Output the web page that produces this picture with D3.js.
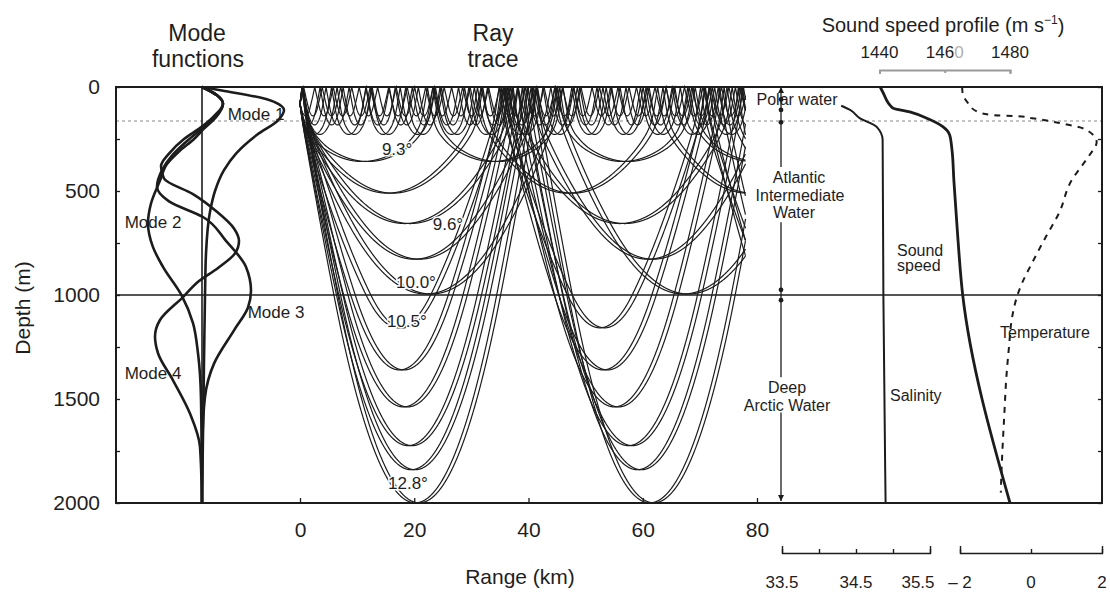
<!DOCTYPE html>
<html>
<head>
<meta charset="utf-8">
<title>Arctic acoustics</title>
<script src="https://cdn.jsdelivr.net/npm/d3@7/dist/d3.min.js"></script>
<style>
    body { margin: 0; background: #fff; }
    svg { display: block; font-family: 'Liberation Sans', Arial, sans-serif; }
    text { fill: #1e1e1e; }
</style>
</head>
<body>
<svg id="chart" width="1110" height="592"></svg>
<script>
// axis ticks
const DEPTH_TICKS = [0, 500, 1000, 1500, 2000]
const DEPTH_MINOR = [0, 250, 500, 750, 1000, 1250, 1500, 1750, 2000]
const RANGE_TICKS = [0, 20, 40, 60, 80]
const SPEED_TICKS = [1440, 1460, 1480]
const SALINITY_TICKS = [33.5, 34.5, 35.5]
const SALINITY_MINOR = [33.5, 34, 34.5, 35, 35.5]
const TEMP_TICKS = [-2, 0, 2]

// profiles: [depth m, value]
const soundSpeed = [[0, 1440.2], [24, 1441], [100, 1444], [120, 1449.3], [150, 1454.5], [190, 1459.4],
    [230, 1461.5], [300, 1462.2], [450, 1462.8], [700, 1463.9], [1000, 1465.5], [2000, 1480]]
const salinity = [[90, 34.3], [110, 34.42], [150, 34.55], [192, 34.78], [255, 34.86], [1000, 34.87], [2000, 34.9]]
const temperature = [[0, -1.94], [25, -1.93], [72, -1.8], [120, -1.5], [135, -1.07], [140, -0.4], [150, 0.03],
    [173, 0.8], [205, 1.55], [265, 1.85], [327, 1.65], [375, 1.45], [447, 1.15], [606, 0.79], [720, 0.42],
    [846, 0.03], [942, -0.25], [1005, -0.39], [1105, -0.53], [1250, -0.62], [1410, -0.7], [1570, -0.75],
    [1730, -0.8], [1890, -0.84], [1950, -0.85]]

// mode functions: [depth m, amplitude (arbitrary units)]
const mode1 = [[0, 0], [20, 2.4], [58, 6.4], [112, 8.2], [160, 7.6], [230, 5.5], [320, 3.4], [400, 2.2],
    [500, 1.3], [600, 0.8], [800, 0.4], [1000, 0.3], [1500, 0.15], [2000, 0]]
const mode2 = [[0, 0], [40, 1.5], [80, 2.1], [145, 1.4], [200, 0.2], [250, -0.8], [310, -2.3], [370, -3.5],
    [450, -4.2], [560, -5.1], [655, -5.4], [770, -4.9], [865, -3.9], [1005, -2.0], [1135, -0.9],
    [1280, -0.4], [1500, -0.1], [2000, 0]]
const mode3 = [[0, 0], [40, 1.5], [80, 2.1], [145, 1.3], [200, 0], [260, -1.5], [330, -3.0], [400, -4.0],
    [480, -4.5], [550, -3.3], [625, 0.1], [740, 2.4], [865, 4.4], [980, 4.9], [1060, 4.6], [1170, 3.2],
    [1330, 1.2], [1490, 0.3], [1700, 0.05], [2000, 0]]
const mode4 = [[0, 0], [40, 1.5], [80, 2.1], [140, 1.2], [190, 0], [250, -1.8], [320, -3.3], [380, -4.1],
    [440, -3.8], [515, -0.9], [596, 1.4], [680, 3.2], [740, 3.7], [800, 3.3], [870, 1.6], [933, -0.3],
    [1010, -1.9], [1120, -4.2], [1200, -4.7], [1280, -4.4], [1410, -2.9], [1570, -1.2], [1730, -0.2], [2000, 0]]

// ray trace: source depth (m), launch angles (deg), max range (km)
const SOURCE_DEPTH = 80
const MAX_RANGE = 78
const ductAngles = [6.5, 8.3, 9.05]
const deepAngles = [9.3, 9.45, 9.6, 9.8, 10.0, 10.5, 11.1, 11.6, 12.1, 12.4, 12.8]
const angleLabels = [['9.3°', 17.0, 298], ['9.6°', 25.9, 659], ['10.0°', 20.3, 938], ['10.5°', 18.7, 1125], ['12.8°', 18.9, 1904]]

// water masses column
const waterMassSegments = [[0, 385], [650, 1395], [1565, 1990]]
const waterMassDots = [60, 110, 170, 975, 1025]

const svg = d3.select('#chart')
const ink = '#1c1c1c'

const y = d3.scaleLinear().domain([0, 2000]).range([87, 503])
const xRange = d3.scaleLinear().domain([0, 80]).range([300, 757])
const xMode = d3.scaleLinear().domain([-6, 9]).range([142, 292])
const xSpeed = d3.scaleLinear().domain([1440, 1480]).range([879.5, 1010])
const xSal = d3.scaleLinear().domain([33.5, 35.5]).range([782, 930])
const xTemp = d3.scaleLinear().domain([-2, 2]).range([960, 1102])
const COLUMN_X = 781
const LEFT = 116, RIGHT = 1102

// faint dotted scan line and 1000 m line
svg.append('line')
    .attr('x1', LEFT).attr('x2', RIGHT).attr('y1', y(163)).attr('y2', y(163))
    .attr('stroke', '#c4c4c4').attr('stroke-width', 2).attr('stroke-dasharray', '3,3')
svg.append('line')
    .attr('x1', LEFT).attr('x2', RIGHT).attr('y1', y(1000)).attr('y2', y(1000))
    .attr('stroke', ink).attr('stroke-width', 1.3)

// --- ray tracing through the sound speed profile
const zs = soundSpeed.map(d => d[0])
const speedAt = d3.scaleLinear().domain(zs).range(soundSpeed.map(d => d[1])).clamp(true)
const slopeAt = z => {
    const i = Math.max(1, Math.min(soundSpeed.length - 1, d3.bisectRight(zs, z)))
    return (soundSpeed[i][1] - soundSpeed[i - 1][1]) / (soundSpeed[i][0] - soundSpeed[i - 1][0])
}

function traceRay(angle, dir) {
    const a = Math.cos(angle * Math.PI / 180) / speedAt(SOURCE_DEPTH)
    let r = 0, z = SOURCE_DEPTH, th = dir * angle * Math.PI / 180
    const ds = 10
    const pts = [[0, z]]
    for (let n = 1; r < MAX_RANGE * 1000; n++) {
        const k1 = -slopeAt(z) / speedAt(z) * Math.cos(th)
        const thm = th + 0.5 * ds * k1
        const zm = z + 0.5 * ds * Math.sin(th)
        const k2 = -slopeAt(zm) / speedAt(zm) * Math.cos(thm)
        r += ds * Math.cos(thm)
        z += ds * Math.sin(thm)
        th += ds * k2
        if (z < 0) {
            pts.push([r / 1000, 0])
            z = -z
            th = -th
        }
        // keep Snell's invariant
        const cosT = a * speedAt(z)
        if (cosT < 1) th = (th >= 0 ? 1 : -1) * Math.acos(cosT)
        if (n % 5 === 0) pts.push([r / 1000, z])
    }
    return pts
}

const rays = []
ductAngles.concat(deepAngles).forEach(ang => {
    rays.push(traceRay(ang, 1))
    rays.push(traceRay(ang, -1))
})

const rayLine = d3.line().x(d => xRange(d[0])).y(d => y(d[1]))
svg.append('g').attr('id', 'rays')
    .selectAll('path')
    .data(rays)
    .join('path')
    .attr('d', rayLine)
    .attr('fill', 'none')
    .attr('stroke', ink)
    .attr('stroke-width', 1.2)

svg.append('g').selectAll('text')
    .data(angleLabels)
    .join('text')
    .attr('x', d => xRange(d[1]))
    .attr('y', d => y(d[2]))
    .attr('dy', '0.35em')
    .attr('text-anchor', 'middle')
    .attr('font-size', 17)
    .attr('paint-order', 'stroke')
    .attr('stroke', '#fff').attr('stroke-width', 3)
    .text(d => d[0])

// --- mode functions
svg.append('line')
    .attr('x1', xMode(0)).attr('x2', xMode(0)).attr('y1', y(0)).attr('y2', y(2000))
    .attr('stroke', ink).attr('stroke-width', 1.6)

const modeLine = d3.line().x(d => xMode(d[1])).y(d => y(d[0])).curve(d3.curveMonotoneY)
svg.append('g').selectAll('path')
    .data([mode1, mode2, mode3, mode4])
    .join('path')
    .attr('d', modeLine)
    .attr('fill', 'none')
    .attr('stroke', ink)
    .attr('stroke-width', 2.6)

const modeLabels = [['Mode 1', 5.4, 128], ['Mode 2', -4.9, 649], ['Mode 3', 7.4, 1082], ['Mode 4', -4.9, 1375]]
svg.append('g').selectAll('text')
    .data(modeLabels)
    .join('text')
    .attr('x', d => xMode(d[1]))
    .attr('y', d => y(d[2]))
    .attr('dy', '0.35em')
    .attr('text-anchor', 'middle')
    .attr('font-size', 17)
    .text(d => d[0])

// --- water masses column
svg.append('g').selectAll('line')
    .data(waterMassSegments)
    .join('line')
    .attr('x1', COLUMN_X).attr('x2', COLUMN_X)
    .attr('y1', d => y(d[0])).attr('y2', d => y(d[1]))
    .attr('stroke', ink).attr('stroke-width', 1.3)
svg.append('g').selectAll('circle')
    .data(waterMassDots)
    .join('circle')
    .attr('cx', COLUMN_X).attr('cy', d => y(d)).attr('r', 2.4)
    .attr('fill', ink)
svg.append('path')
    .attr('d', `M${COLUMN_X - 3},${y(0) + 6}L${COLUMN_X},${y(0)}L${COLUMN_X + 3},${y(0) + 6}Z`
        + `M${COLUMN_X - 3},${y(1990) - 6}L${COLUMN_X},${y(1990)}L${COLUMN_X + 3},${y(1990) - 6}Z`)
    .attr('fill', ink)

const massLabels = [['Polar water', 797, 58], ['Atlantic', 799, 433], ['Intermediate', 800, 519], ['Water', 794, 601],
    ['Deep', 787, 1442], ['Arctic Water', 787, 1529]]
svg.append('g').selectAll('text')
    .data(massLabels)
    .join('text')
    .attr('x', d => d[1])
    .attr('y', d => y(d[2]))
    .attr('dy', '0.35em')
    .attr('text-anchor', 'middle')
    .attr('font-size', 16)
    .text(d => d[0])

// --- profiles
const profileLine = scale => d3.line().x(d => scale(d[1])).y(d => y(d[0])).curve(d3.curveMonotoneY)
svg.append('path').datum(salinity)
    .attr('d', profileLine(xSal))
    .attr('fill', 'none').attr('stroke', ink).attr('stroke-width', 2)
svg.append('path').datum(soundSpeed)
    .attr('d', profileLine(xSpeed))
    .attr('fill', 'none').attr('stroke', ink).attr('stroke-width', 2.8)
svg.append('path').datum(temperature)
    .attr('d', profileLine(xTemp))
    .attr('fill', 'none').attr('stroke', ink).attr('stroke-width', 2)
    .attr('stroke-dasharray', '6,6')

const profileLabels = [['Sound', 897, 784], ['speed', 897, 856], ['Salinity', 890, 1481], ['Temperature', 1000, 1178]]
svg.append('g').selectAll('text')
    .data(profileLabels)
    .join('text')
    .attr('x', d => d[1])
    .attr('y', d => y(d[2]))
    .attr('dy', '0.35em')
    .attr('font-size', 16)
    .text(d => d[0])

// --- frame
svg.append('rect')
    .attr('x', LEFT).attr('y', y(0)).attr('width', RIGHT - LEFT).attr('height', y(2000) - y(0))
    .attr('fill', 'none').attr('stroke', ink).attr('stroke-width', 2)

// depth axis
svg.append('g')
    .attr('transform', `translate(${LEFT},0)`)
    .call(d3.axisLeft(y).tickValues(DEPTH_TICKS).tickFormat(d3.format('d')).tickSize(0).tickPadding(16))
    .call(g => g.select('.domain').remove())
    .call(g => g.selectAll('text').attr('font-size', 21).attr('fill', ink).attr('font-family', null))
svg.append('g')
    .attr('transform', `translate(${LEFT},0)`)
    .call(d3.axisRight(y).tickValues(DEPTH_MINOR).tickSize(4).tickFormat(''))
    .call(g => g.select('.domain').remove())
    .call(g => g.selectAll('line').attr('stroke', ink).attr('stroke-width', 1.3))
svg.append('g')
    .attr('transform', `translate(${RIGHT},0)`)
    .call(d3.axisLeft(y).tickValues(DEPTH_MINOR).tickSize(4).tickFormat(''))
    .call(g => g.select('.domain').remove())
    .call(g => g.selectAll('line').attr('stroke', ink).attr('stroke-width', 1.3))

// range axis
svg.append('g')
    .attr('transform', `translate(0,${y(2000)})`)
    .call(d3.axisBottom(xRange).tickValues(RANGE_TICKS).tickSize(-5))
    .call(g => g.select('.domain').remove())
    .call(g => g.selectAll('line').attr('stroke', ink).attr('stroke-width', 1.3))
    .call(g => g.selectAll('text').attr('y', 27).attr('dy', '0.35em').attr('font-size', 21)
        .attr('fill', ink).attr('font-family', null))

// salinity and temperature scales at the bottom
const bracket = (scale, minor) => g => g
    .call(d3.axisTop(scale).tickValues(minor).tickSize(4).tickSizeOuter(7).tickFormat(''))
    .call(gg => gg.selectAll('line, path').attr('stroke', ink).attr('stroke-width', 1.4))
svg.append('g').attr('transform', 'translate(0,553)').call(bracket(xSal, SALINITY_MINOR))
svg.append('g').attr('transform', 'translate(0,553)').call(bracket(xTemp, TEMP_TICKS))

const bottomLabels = SALINITY_TICKS.map((v, i) => [d3.format('.1f')(v), xSal(v) - (i === 2 ? 12 : 0)])
    .concat(TEMP_TICKS.map(v => [v < 0 ? '\u2013 ' + Math.abs(v) : String(v), xTemp(v)]))
svg.append('g').selectAll('text')
    .data(bottomLabels)
    .join('text')
    .attr('x', d => d[1])
    .attr('y', 582)
    .attr('dy', '0.35em')
    .attr('text-anchor', 'middle')
    .attr('font-size', 17)
    .text(d => d[0])

// sound speed scale on top
svg.append('g')
    .attr('transform', 'translate(0,70)')
    .call(d3.axisBottom(xSpeed).tickValues(SPEED_TICKS).tickSize(3).tickSizeOuter(4).tickFormat(''))
    .call(g => g.selectAll('line, path').attr('stroke', '#9a9a9a').attr('stroke-width', 2))
const speedLabels = svg.append('g').selectAll('text')
    .data(SPEED_TICKS)
    .join('text')
    .attr('x', d => xSpeed(d))
    .attr('y', 52)
    .attr('dy', '0.35em')
    .attr('text-anchor', 'middle')
    .attr('font-size', 17)
speedLabels.filter(d => d !== 1460).text(d => d)
speedLabels.filter(d => d === 1460)
    .call(t => t.append('tspan').text('146'))
    .call(t => t.append('tspan').attr('fill', '#b0b0b0').text('0'))

// titles
const titles = [['Mode', 197, 33, 23], ['functions', 198, 59, 23], ['Ray', 493, 33, 23], ['trace', 493, 59, 23]]
svg.append('g').selectAll('text')
    .data(titles)
    .join('text')
    .attr('x', d => d[1]).attr('y', d => d[2])
    .attr('dy', '0.35em')
    .attr('text-anchor', 'middle')
    .attr('font-size', d => d[3])
    .text(d => d[0])

const sspTitle = svg.append('text')
    .attr('x', 943).attr('y', 25).attr('dy', '0.35em')
    .attr('text-anchor', 'middle').attr('font-size', 20)
sspTitle.append('tspan').text('Sound speed profile (m s')
sspTitle.append('tspan').attr('font-size', 12).attr('dy', '-0.7em').text('\u22121')
sspTitle.append('tspan').attr('dy', '0.45em').text(')')

svg.append('text')
    .attr('transform', 'translate(23,308) rotate(-90)')
    .attr('dy', '0.35em')
    .attr('text-anchor', 'middle')
    .attr('font-size', 21)
    .text('Depth (m)')

svg.append('text')
    .attr('x', 520).attr('y', 577).attr('dy', '0.35em')
    .attr('text-anchor', 'middle')
    .attr('font-size', 21)
    .text('Range (km)')
</script>
</body>
</html>
